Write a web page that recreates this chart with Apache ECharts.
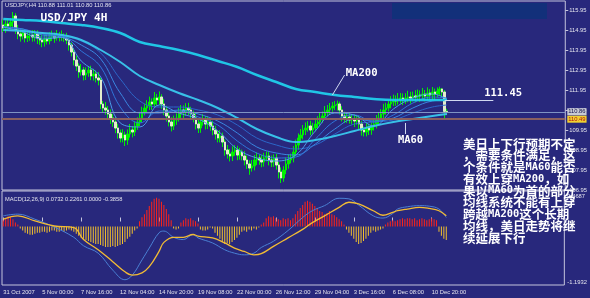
<!DOCTYPE html>
<html><head><meta charset="utf-8">
<script src="https://cdn.jsdelivr.net/npm/echarts@6/dist/echarts.min.js"></script>
<style>html,body{margin:0;padding:0;background:#28287c;}#c{width:590px;height:298px;}</style>
</head><body><div id="c"></div>
<script>
// ---------- data ----------
const tickLabels = ['31 Oct 2007','5 Nov 00:00','7 Nov 16:00','12 Nov 04:00','14 Nov 20:00','19 Nov 08:00','22 Nov 00:00','26 Nov 12:00','29 Nov 04:00','3 Dec 16:00','6 Dec 08:00','10 Dec 20:00'];
const priceTicks = [106.95,107.95,108.95,109.95,110.95,111.95,112.95,113.95,114.95,115.95];
const macdLabels = ['0.4687','-1.1932'];
const slotCount = 231;
const firstOpen = 115.20;
const closes = [115.05,115.25,115.15,115.35,115.65,114.95,114.75,114.65,114.80,114.55,
114.65,114.70,114.60,114.75,114.55,114.45,114.35,114.50,114.40,114.60,
114.65,114.55,114.70,114.60,114.65,114.55,114.45,114.20,113.85,113.45,
113.15,112.85,112.95,112.70,112.80,112.95,112.65,112.75,112.55,112.45,
111.25,111.05,110.95,110.75,110.55,110.35,110.05,109.80,109.55,109.70,
109.45,109.75,109.95,109.85,110.15,110.35,110.55,110.85,111.05,111.15,
111.35,111.25,111.55,111.45,111.60,111.25,110.95,110.65,110.35,110.15,
110.45,110.55,110.75,110.95,110.85,111.05,110.95,110.75,110.55,110.25,
110.05,110.35,110.45,110.25,110.35,110.15,109.95,109.75,109.55,109.65,
109.35,108.95,108.75,108.65,108.85,108.95,108.70,108.85,108.65,108.45,
108.25,108.05,108.15,108.45,108.55,108.45,108.35,108.55,108.65,108.45,
108.35,108.55,108.20,107.85,107.55,107.95,108.25,108.45,108.55,108.85,
109.20,109.55,109.70,109.95,110.05,110.15,109.95,110.05,110.25,110.35,
110.55,110.65,110.85,110.95,111.05,111.15,111.20,111.25,110.95,110.65,
110.55,110.60,110.45,110.50,110.40,110.45,110.25,109.95,109.85,110.05,
109.95,110.10,110.25,110.45,110.55,110.75,110.95,111.05,111.25,111.35,
111.45,111.40,111.50,111.55,111.45,111.55,111.60,111.55,111.65,111.60,
111.70,111.65,111.75,111.65,111.80,111.70,111.85,111.75,111.90,112.00,
111.85,110.88,110.86];
const highs = [115.47,115.43,115.55,115.55,115.85,115.79,115.21,114.96,115.02,114.99,
114.87,114.93,114.95,114.95,114.93,114.69,114.71,114.71,114.67,114.84,
114.92,114.83,114.95,114.85,114.93,114.79,114.81,114.61,114.32,114.04,
113.67,113.28,113.25,113.10,113.08,113.14,113.16,113.01,112.92,112.84,
112.55,111.40,111.35,111.15,110.98,110.74,110.61,110.26,109.97,109.99,
109.87,109.98,110.25,110.15,110.38,110.59,110.86,111.11,111.27,111.44,
111.62,111.53,111.85,111.75,111.88,111.74,111.51,111.16,110.82,110.59,
110.67,110.78,111.05,111.20,111.18,111.29,111.31,111.11,110.92,110.79,
110.47,110.53,110.75,110.65,110.63,110.54,110.41,110.16,109.92,109.94,
109.82,109.48,109.20,109.00,109.13,109.19,109.16,109.06,108.97,108.89,
108.67,108.43,108.45,108.70,108.83,108.74,108.71,108.81,108.87,108.84,
108.67,108.73,108.75,108.35,108.08,108.14,108.56,108.71,108.77,109.14,
109.47,109.78,110.00,110.20,110.33,110.39,110.41,110.31,110.47,110.64,
110.82,110.88,111.15,111.20,111.30,111.35,111.40,111.42,111.37,111.14,
110.87,110.83,110.85,110.75,110.73,110.69,110.66,110.41,110.12,110.29,
110.27,110.33,110.55,110.70,110.83,110.99,111.26,111.31,111.47,111.64,
111.72,111.68,111.80,111.80,111.78,111.79,111.91,111.86,111.87,111.94,
111.97,111.93,112.05,111.95,112.08,111.99,112.10,112.02,112.08,112.12,
112.05,111.95,111.01];
const lows = [114.85,114.81,114.97,114.98,115.10,114.76,114.49,114.37,114.48,114.33,
114.35,114.41,114.37,114.38,114.25,114.21,114.09,114.12,114.23,114.23,
114.40,114.31,114.42,114.38,114.40,114.36,114.24,113.92,113.63,113.18,
112.90,112.56,112.67,112.43,112.45,112.61,112.44,112.42,112.33,112.18,
111.00,110.81,110.72,110.48,110.25,110.11,109.79,109.52,109.33,109.33,
109.15,109.21,109.57,109.58,109.65,109.96,110.14,110.32,110.68,110.83,
110.95,110.96,111.07,111.18,111.20,111.01,110.69,110.37,110.13,109.88,
109.95,110.21,110.37,110.53,110.55,110.66,110.69,110.47,110.33,109.98,
109.80,109.81,110.17,109.98,110.00,109.91,109.69,109.47,109.33,109.33,
109.10,108.66,108.52,108.38,108.40,108.66,108.44,108.47,108.43,108.18,
108.00,107.71,107.87,107.93,108.20,108.21,108.09,108.12,108.38,108.18,
108.10,108.11,107.97,107.53,107.30,107.36,107.74,108.02,108.28,108.33,
108.65,108.96,109.37,109.48,109.70,109.86,109.69,109.72,109.88,110.03,
110.15,110.31,110.47,110.63,110.70,110.86,110.94,110.92,110.73,110.38,
110.30,110.31,110.27,110.23,110.10,110.21,109.99,109.67,109.63,109.63,
109.70,109.71,109.92,110.03,110.20,110.36,110.54,110.72,110.88,111.03,
111.15,111.16,111.22,111.28,111.20,111.26,111.34,111.27,111.38,111.33,
111.40,111.36,111.47,111.38,111.40,111.46,111.49,111.47,111.58,111.68,
111.60,110.49,110.80];
// moving averages read at sample bars
const maIdx = [0,8,16,24,32,40,48,56,64,72,80,88,96,104,112,120,128,136,144,152,160,168,176,182];
const ma200 = [115.50,115.45,115.40,115.30,115.20,115.05,114.80,114.35,114.15,113.95,113.70,113.40,113.10,112.70,112.35,112.00,111.85,111.70,111.60,111.50,111.45,111.45,111.45,111.45];
const ma60  = [114.95,114.90,114.80,114.70,114.45,113.95,113.35,112.65,112.20,111.80,111.45,111.05,110.55,110.00,109.60,109.35,109.45,109.65,109.90,110.15,110.35,110.50,110.65,110.75];
const maA = [115.10,114.85,114.50,114.58,113.40,112.60,110.30,110.10,111.20,110.80,110.50,109.90,109.00,108.55,108.40,108.70,109.90,110.80,110.70,110.15,111.00,111.55,111.75,111.50];
const maB = [115.10,114.95,114.60,114.60,113.90,113.10,111.10,110.30,110.90,110.90,110.60,110.20,109.40,108.80,108.55,108.60,109.50,110.40,110.70,110.35,110.70,111.30,111.60,111.55];
const maC = [115.10,115.00,114.70,114.62,114.20,113.50,111.80,110.80,110.80,110.95,110.75,110.40,109.80,109.10,108.80,108.70,109.25,110.00,110.50,110.40,110.55,111.05,111.40,111.45];
const maD = [115.10,115.00,114.75,114.65,114.40,113.80,112.50,111.40,111.10,111.10,110.95,110.70,110.20,109.55,109.20,109.00,109.20,109.75,110.25,110.35,110.45,110.80,111.10,111.20];
// MACD
const macdIdx = [0,6,13,21,29,33,39,45,50,53,57,60,64,66,70,74,78,80,86,91,95,99,103,106,111,117,123,127,132,138,142,146,152,156,160,162,166,171,175,179,182];
const macdMain = [0.03,0.06,-0.03,-0.17,-0.35,-0.50,-0.63,-0.93,-1.10,-1.02,-0.75,-0.54,-0.27,-0.24,-0.35,-0.39,-0.30,-0.36,-0.45,-0.57,-0.63,-0.66,-0.63,-0.53,-0.42,-0.23,0.00,0.12,0.21,0.34,0.33,0.22,0.03,-0.01,0.07,0.15,0.19,0.21,0.20,0.15,0.00];
const macdSignal = [-0.03,0.03,-0.06,-0.15,-0.18,-0.39,-0.57,-0.78,-0.96,-1.02,-0.98,-0.87,-0.60,-0.44,-0.35,-0.35,-0.30,-0.33,-0.36,-0.45,-0.54,-0.60,-0.66,-0.64,-0.51,-0.36,-0.21,-0.09,0.03,0.18,0.27,0.24,0.12,0.04,0.09,0.12,0.15,0.18,0.16,0.12,0.03];
const macdHist = [0.12,0.16,0.20,0.18,0.14,0.08,0.04,
-0.04,-0.08,-0.12,-0.14,-0.16,-0.16,-0.14,-0.12,-0.12,-0.10,-0.10,-0.12,-0.10,-0.08,
-0.08,-0.10,-0.10,-0.08,-0.10,-0.08,-0.06,-0.08,-0.10,
-0.14,-0.18,-0.22,-0.24,-0.26,-0.28,-0.30,-0.32,-0.34,-0.34,
-0.36,-0.38,-0.40,-0.40,-0.40,-0.38,-0.40,-0.38,-0.36,-0.34,
-0.30,-0.24,-0.20,-0.14,-0.08,-0.04,
0.10,0.18,0.24,0.32,0.40,0.48,0.54,0.56,0.54,0.48,0.42,0.34,0.24,
0.12,-0.04,-0.06,-0.04,
0.08,0.12,0.16,0.14,0.16,0.12,0.10,0.06,
-0.06,-0.08,-0.08,-0.06,-0.02,-0.04,
-0.12,-0.18,-0.24,-0.30,-0.34,-0.32,-0.34,-0.30,-0.26,-0.22,-0.16,
-0.10,-0.08,-0.10,-0.06,-0.08,-0.04,-0.06,-0.02,0.04,0.08,
0.16,0.20,0.18,0.20,0.16,0.14,
0.12,0.16,0.14,0.16,0.12,0.16,
0.24,0.30,0.36,0.42,0.48,0.50,0.48,0.44,0.40,0.36,
0.30,0.28,0.24,0.26,0.30,0.24,0.22,0.18,
0.14,0.10,0.04,-0.06,
-0.12,-0.18,-0.24,-0.30,-0.34,-0.32,-0.28,-0.24,-0.18,-0.12,-0.08,
-0.10,-0.08,-0.06,-0.04,
0.04,0.08,0.10,0.12,0.10,0.12,
0.14,0.16,0.14,0.16,0.16,0.14,0.16,0.12,0.14,0.16,0.14,0.12,0.14,0.16,0.14,0.12,
-0.10,-0.18,-0.24,-0.26];
const bidPrice = 110.86, linePrice = 110.49, levelPrice = 111.45;
const noteLines = ['美日上下行预期不定','，需要条件满足，这','个条件就是MA60能否','有效上穿MA200，如','果以MA60为首的部分','均线系统不能有上穿','跨越MA200这个长期','均线，美日走势将继','续延展下行'];
const headerText = 'USDJPY,H4 110.88 111.01 110.80 110.86';
const macdText = 'MACD(12,26,9) 0.0732 0.2261 0.0000 -0.3858';

// ---------- build ----------
const cats = Array.from({length: slotCount}, (_, i) => String(i));
const opens = [firstOpen].concat(closes.slice(0, -1));
const candleData = closes.map((c, i) => [opens[i], c, lows[i], highs[i]]);
const bearBodies = closes.map((c, i) => opens[i] > c ? [opens[i], c, c, opens[i]] : '-');
const pairs = (idx, arr) => idx.map((x, k) => [x, arr[k]]);
const tickShown = (i) => i % 16 === 0 && i / 16 < tickLabels.length;
const smallFont = {fontFamily: 'Liberation Sans', fontSize: 5.8, color: '#e4e4ee'};
const boldMono = {fontFamily: 'DejaVu Sans Mono', fontWeight: 'bold', color: '#ffffff'};
const noteRich = noteLines.map((l) => l.replace(/([A-Za-z0-9]+)/g, '{m|$1}')).join('\n');

const chart = echarts.init(document.getElementById('c'), null, {renderer: 'canvas'});
const maLine = (data, color, width, z) => ({type: 'line', xAxisIndex: 0, yAxisIndex: 0, data, symbol: 'none', smooth: 0.4,
  lineStyle: {color, width}, z: z || 3, silent: true});

chart.setOption({
  animation: false,
  backgroundColor: '#28287c',
  grid: [
    {left: 2, top: 1, width: 564, height: 189, show: true, borderColor: '#c4c4dc', borderWidth: 1, backgroundColor: 'transparent'},
    {left: 2, top: 191, width: 564, height: 94, show: true, borderColor: '#c4c4dc', borderWidth: 1, backgroundColor: 'transparent'}
  ],
  xAxis: [
    {type: 'category', gridIndex: 0, data: cats, boundaryGap: true, axisLine: {show: false}, axisTick: {show: false}, axisLabel: {show: false}, splitLine: {show: false}},
    {type: 'category', gridIndex: 1, data: cats, boundaryGap: true, axisLine: {show: false},
      axisTick: {show: true, alignWithLabel: true, interval: (i) => tickShown(i), length: 4, lineStyle: {color: '#c4c4dc'}},
      axisLabel: Object.assign({show: true, interval: (i) => tickShown(i), align: 'left', margin: 4,
        formatter: (v, i) => tickShown(i) ? tickLabels[i / 16] : ''}, smallFont),
      splitLine: {show: false}}
  ],
  yAxis: [
    {type: 'value', gridIndex: 0, position: 'right', min: 106.95, max: 116.40, splitLine: {show: false}, axisLine: {show: false},
      axisTick: {show: true, length: 3, customValues: priceTicks, lineStyle: {color: '#c4c4dc'}},
      axisLabel: Object.assign({show: true, margin: 4, customValues: priceTicks, formatter: (v) => v.toFixed(2)}, smallFont)},
    {type: 'value', gridIndex: 1, position: 'right', min: -1.1932, max: 0.4687, splitLine: {show: false}, axisLine: {show: false},
      axisTick: {show: false},
      axisLabel: Object.assign({show: true, margin: 3, customValues: [0.38, -1.14], formatter: (v) => v > 0 ? macdLabels[0] : macdLabels[1]}, smallFont)},
    {type: 'value', gridIndex: 1, show: false, min: -1.137, max: 0.69}
  ],
  series: [
    {type: 'candlestick', xAxisIndex: 0, yAxisIndex: 0, data: candleData, barWidth: 2, z: 2,
      itemStyle: {color: '#00f000', color0: '#00f000', borderColor: '#00f000', borderColor0: '#00f000', borderWidth: 1}},
    {type: 'candlestick', xAxisIndex: 0, yAxisIndex: 0, data: bearBodies, barWidth: 2, z: 2,
      itemStyle: {color: '#e2eccc', color0: '#e2eccc', borderColor: '#e2eccc', borderColor0: '#e2eccc', borderWidth: 1}},
    maLine(pairs(maIdx, maD), '#2c66c8', 1),
    maLine(pairs(maIdx, maC), '#3a86e0', 1),
    maLine(pairs(maIdx, maB), '#2f74d8', 1),
    maLine(pairs(maIdx, maA), '#4a9ae8', 1),
    maLine(pairs(maIdx, ma60), '#38c0e8', 2, 4),
    Object.assign(maLine(pairs(maIdx, ma200), '#20c6e6', 2.5, 4), {
      markLine: {silent: true, symbol: ['none', 'none'], animation: false,
        data: [
          {yAxis: bidPrice, lineStyle: {color: '#8094c4', width: 1, type: 'solid'},
            label: {show: true, position: 'end', distance: 2, formatter: bidPrice.toFixed(2), backgroundColor: '#c8cad4', color: '#10104a', padding: [1, 1, 0, 1], fontSize: 5.8, fontFamily: 'Liberation Sans'}},
          {yAxis: linePrice, lineStyle: {color: '#8a6060', width: 2, type: 'solid'},
            label: {show: true, position: 'end', distance: 2, formatter: linePrice.toFixed(2), backgroundColor: '#f0d030', color: '#b01010', padding: [1, 1, 0, 1], fontSize: 5.8, fontFamily: 'Liberation Sans'}},
          [{coord: [181, 111.415]}, {coord: [201, 111.415]}],
          [{coord: [140, 112.70]}, {coord: [135, 111.70]}],
          [{coord: [165, 110.30]}, {coord: [165, 109.75]}]
        ].map((d) => Array.isArray(d) ? [Object.assign({lineStyle: {color: '#d0d8f0', width: 1, type: 'solid'}, label: {show: false}}, d[0]), d[1]] : d)
      },
      markPoint: {silent: true, symbol: 'rect', symbolSize: 1, itemStyle: {color: 'rgba(0,0,0,0)'}, animation: false,
        data: [
          {coord: [29, 115.525], label: Object.assign({show: true, position: 'inside', formatter: 'USD/JPY 4H', fontSize: 11.1}, boldMono)},
          {coord: [147, 112.775], label: Object.assign({show: true, position: 'inside', formatter: 'MA200', fontSize: 10.6}, boldMono)},
          {coord: [167, 109.425], label: Object.assign({show: true, position: 'inside', formatter: 'MA60', fontSize: 10.4}, boldMono)},
          {coord: [205, 111.775], label: Object.assign({show: true, position: 'inside', formatter: levelPrice.toFixed(2), fontSize: 10.5}, boldMono)}
        ]}
    }),
    {type: 'bar', xAxisIndex: 1, yAxisIndex: 2, data: macdHist, barWidth: 1, silent: true,
      itemStyle: {color: (p) => p.value >= 0 ? '#ff2418' : '#f2c02c'}},
    {type: 'line', xAxisIndex: 1, yAxisIndex: 1, data: pairs(macdIdx, macdMain), symbol: 'none', smooth: 0.4, silent: true,
      lineStyle: {color: '#4a80d4', width: 1}},
    {type: 'line', xAxisIndex: 1, yAxisIndex: 1, data: pairs(macdIdx, macdSignal), symbol: 'none', smooth: 0.4, silent: true,
      lineStyle: {color: '#f2bc34', width: 1.3}}
  ],
  graphic: [
    {type: 'rect', z: 0, shape: {x: 392, y: 3, width: 155, height: 16}, style: {fill: '#12307a'}, silent: true},
    {type: 'text', z: 50, left: 5, top: 2, style: {text: headerText, fill: '#e4e4ee', fontSize: 5.8, fontFamily: 'Liberation Sans'}},
    {type: 'text', z: 50, left: 5, top: 196, style: {text: macdText, fill: '#e4e4ee', fontSize: 5.7, fontFamily: 'Liberation Sans'}},
    {type: 'text', z: 100, left: 463, top: 137.5, style: {text: noteRich, fill: '#ffffff', fontSize: 12.5, lineHeight: 11.75,
      fontWeight: 'bold', fontFamily: '"Noto Sans CJK SC"',
      rich: {m: {fontFamily: 'DejaVu Sans Mono', fontWeight: 'bold', fontSize: 10.4, lineHeight: 11.75, fill: '#ffffff'}}}}
  ]
});
</script></body></html>
